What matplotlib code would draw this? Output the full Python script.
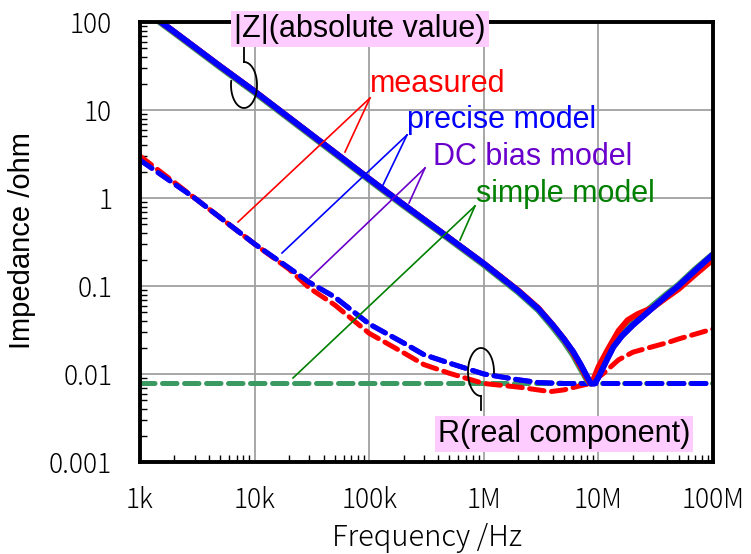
import numpy as np
import matplotlib
matplotlib.use('Agg')
import matplotlib.pyplot as plt
from matplotlib.lines import Line2D
from matplotlib.transforms import Affine2D
from matplotlib.ticker import NullFormatter, LogLocator

# |Z| (absolute value) curves
f_z = [1e3, 2e3, 5e3, 1e4, 2e4, 5e4, 1e5, 2e5, 5e5, 1e6, 2e6, 3e6, 4e6, 5e6,
       6e6, 7e6, 8e6, 8.6e6, 9.3e6, 1e7, 1.2e7, 1.35e7, 1.6e7, 2e7, 3e7,
       4e7, 5e7, 7e7, 1e8]
z_precise = [150, 77, 31.5, 16.3, 8.2, 3.3, 1.65, 0.84, 0.35, 0.18, 0.088,
             0.055, 0.036, 0.025, 0.018, 0.0128, 0.0092, 0.0078, 0.0078,
             0.0092, 0.015, 0.0203, 0.027, 0.036, 0.057, 0.079, 0.1, 0.15,
             0.228]
z_dcbias = z_precise
z_simple = [146, 75, 30.6, 15.8, 7.95, 3.2, 1.6, 0.815, 0.34, 0.174, 0.085,
            0.053, 0.034, 0.0235, 0.0165, 0.0115, 0.0085, 0.0078, 0.0082,
            0.0098, 0.016, 0.0215, 0.029, 0.038, 0.06, 0.082, 0.103, 0.155,
            0.23]
f_zm = [1e3, 2e3, 5e3, 1e4, 2e4, 5e4, 1e5, 2e5, 5e5, 1e6, 2e6, 3e6, 4e6, 5e6,
        6e6, 7e6, 8e6, 8.5e6, 9e6, 1e7, 1.2e7, 1.5e7, 1.8e7, 2.2e7, 3e7,
        4e7, 5e7, 7e7, 1e8]
z_measured = [150, 77, 31.5, 16.3, 8.2, 3.3, 1.65, 0.84, 0.35, 0.18, 0.089,
              0.056, 0.036, 0.025, 0.0175, 0.0122, 0.0088, 0.0078, 0.0085,
              0.012, 0.0187, 0.031, 0.041, 0.048, 0.057, 0.075, 0.092, 0.135,
              0.2]

# R (real component) curves
f_rp = [1e3, 3e3, 1e4, 2e4, 3e4, 5e4, 1e5, 2e5, 3e5, 5e5, 1e6, 2e6, 3e6, 5e6, 1e8]
r_precise = [2.7, 1.0, 0.30, 0.16, 0.11, 0.075, 0.037, 0.0225, 0.0166, 0.0133,
             0.0100, 0.0086, 0.0080, 0.0078, 0.0078]
r_dcbias = r_precise
f_rm = [1e3, 3e3, 1e4, 2e4, 3e4, 5e4, 1e5, 2e5, 3e5, 5e5, 1e6, 2e6, 3.8e6, 5e6,
        6.5e6, 8.5e6, 1.1e7, 1.5e7, 2e7, 3e7, 4e7, 5e7, 1e8]
r_measured = [3.0, 1.0, 0.30, 0.155, 0.095, 0.061, 0.029, 0.0174, 0.0128,
              0.0102, 0.0078, 0.0071, 0.0063, 0.0066, 0.0072, 0.0078, 0.0101,
              0.0145, 0.0177, 0.0205, 0.0227, 0.025, 0.0325]
f_rs = [1e3, 1e8]
r_simple = [0.0078, 0.0078]

xtick_vals = [1e3, 1e4, 1e5, 1e6, 1e7, 1e8]
xtick_labels = ['1k', '10k', '100k', '1M', '10M', '100M']
ytick_vals = [1e-3, 1e-2, 1e-1, 1, 10, 100]
ytick_labels = ['0.001', '0.01', '0.1', '1', '10', '100']

W, H = 751, 554
fig = plt.figure(figsize=(W / 100, H / 100), dpi=100)
ax = fig.add_axes([140 / W, 1 - 462 / H, 573 / W, 440 / H])
px = Affine2D().scale(1 / W, -1 / H).translate(0, 1) + fig.transFigure

c_red = '#ff0000'
c_blue = '#0000ff'
c_purple = '#6a00cc'
c_green = '#008000'
c_green_line = '#3a9a62'

dash = dict(dashes=(2.9, 1.5), dash_capstyle='round')
ax.plot(f_rs, r_simple, color=c_green_line, lw=3.6, **dash)
ax.plot(f_rp, r_dcbias, color=c_purple, lw=3.6, **dash)
ax.plot(f_rm, r_measured, color=c_red, lw=3.6, **dash)
ax.plot(f_rp, r_precise, color=c_blue, lw=3.6, **dash)

ax.plot(f_z, z_simple, color=c_green_line, lw=4.6)
ax.plot(f_z, z_dcbias, color=c_purple, lw=4.2)
ax.plot(f_zm, z_measured, color=c_red, lw=4.2)
ax.plot(f_z, z_precise, color=c_blue, lw=4.2)

ax.set_xscale('log')
ax.set_yscale('log')
ax.set_xlim(1e3, 1e8)
ax.set_ylim(1e-3, 100)
ax.set_xticks(xtick_vals)
ax.set_xticklabels(xtick_labels)
ax.set_yticks(ytick_vals)
ax.set_yticklabels(ytick_labels)
ax.xaxis.set_minor_locator(LogLocator(base=10, subs=np.arange(2, 10)))
ax.yaxis.set_minor_locator(LogLocator(base=10, subs=np.arange(2, 10)))
ax.xaxis.set_minor_formatter(NullFormatter())
ax.yaxis.set_minor_formatter(NullFormatter())
ax.tick_params(which='major', length=0, labelsize=19, colors='black')
ax.tick_params(axis='x', which='major', pad=17)
ax.tick_params(axis='y', which='major', pad=20)
ax.tick_params(which='minor', direction='in', length=5, width=1,
               top=False, right=False)
for lab in ax.get_xticklabels() + ax.get_yticklabels():
    lab.set_family(['Noto Sans CJK JP', 'DejaVu Sans'])
    lab.set_fontweight('light')
ax.grid(True, which='major', color='#a0a0a0', lw=1.3)
ax.set_axisbelow(True)
for sp in ax.spines.values():
    sp.set_linewidth(2.8)
    sp.set_color('black')

fig.text(427 / W, 1 - 538 / H, 'Frequency /Hz', ha='center', va='center',
         fontsize=21, fontweight='light',
         family=['Noto Sans CJK JP', 'DejaVu Sans'])
fig.text(22 / W, 1 - 241 / H, 'Impedance /ohm', ha='center', va='center',
         rotation=90, fontsize=21, family='Liberation Sans')

# curve labels with pointer lines
labels = [('measured', c_red, 370, 92, (370, 98), (345, 152), (238, 222)),
          ('precise model', c_blue, 407, 128, (407, 135), (383, 185), (282, 253)),
          ('DC bias model', c_purple, 433, 165, (425, 168), (409, 203), (310, 278)),
          ('simple model', c_green, 476, 202, (475, 206), (460, 240), (293, 378))]
for text, col, tx, ty, apex, p1, p2 in labels:
    fig.text(tx / W, 1 - ty / H, text, color=col, fontsize=22,
             family='Liberation Sans', va='baseline', ha='left')
    for p in (p1, p2):
        fig.add_artist(Line2D([apex[0], p[0]], [apex[1], p[1]], transform=px,
                              color=col, lw=1.2))

box = dict(boxstyle='square,pad=0.1', fc='#ffccff', ec='none')
fig.text(234 / W, 1 - 37 / H, '|Z|(absolute value)', fontsize=22,
         family='Liberation Sans', va='baseline', ha='left', bbox=box, zorder=5)
fig.text(438 / W, 1 - 442 / H, 'R(real component)', fontsize=22,
         family='Liberation Sans', va='baseline', ha='left', bbox=box, zorder=5)

# bracket marks
t = np.radians(np.linspace(-90, 190, 80))
fig.add_artist(Line2D(244 + 13 * np.cos(t), 85 + 23 * np.sin(t), transform=px,
                      color='black', lw=1.3))
fig.add_artist(Line2D([244, 244], [46, 62], transform=px, color='black', lw=1.3))
t = np.radians(np.linspace(90, 362, 80))
fig.add_artist(Line2D(481 + 13 * np.cos(t), 372 + 24 * np.sin(t), transform=px,
                      color='black', lw=1.3))
fig.add_artist(Line2D([481, 481], [396, 410], transform=px, color='black', lw=1.3))

fig.savefig('out.png', dpi=100)
